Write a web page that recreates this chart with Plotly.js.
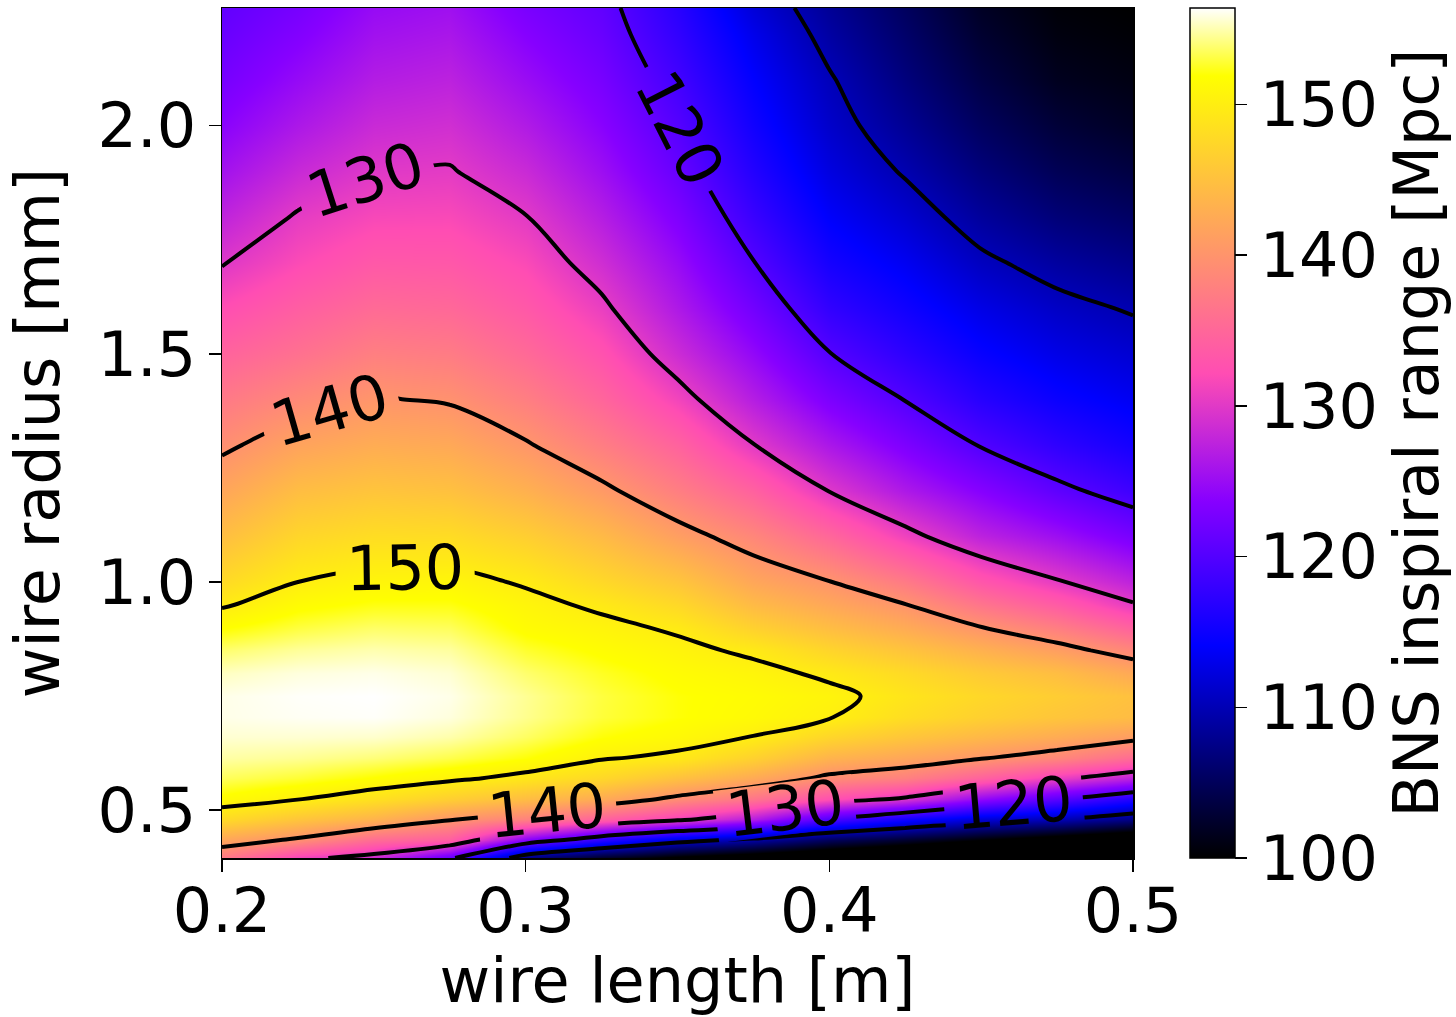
<!DOCTYPE html>
<html>
<head>
<meta charset="utf-8">
<script src="https://cdn.plot.ly/plotly-3.0.1.min.js"></script>
<style>
  html, body { margin: 0; padding: 0; background: #ffffff; }
  #chart { width: 1456px; height: 1017px; }
</style>
</head>
<body>
<div id="chart"></div>
<script>
// wire length [m] (x grid)
const wireLength = [0.2, 0.225, 0.25, 0.275, 0.3, 0.325, 0.35, 0.375, 0.4, 0.425, 0.45, 0.475, 0.5];
// wire radius [mm] (y grid)
const wireRadius = [0.395, 0.435, 0.48, 0.525, 0.57, 0.615, 0.66, 0.705, 0.75, 0.80, 0.85, 0.90, 0.95,
                    1.0, 1.1, 1.2, 1.3, 1.4, 1.5, 1.6, 1.7, 1.8, 1.9, 2.0, 2.1, 2.2, 2.258];

// BNS inspiral range [Mpc], one array per wire length (values along wireRadius)
const range_L0200 = [137, 142, 147.9, 151.5, 153.5, 154.8, 155.6, 156, 156, 155.3, 153.8, 151.8, 149.7, 147.8, 144.7, 142, 139.4, 137, 134.6, 132.2, 129.8, 127.6, 125.6, 123.9, 122.5, 121.5, 121];
const range_L0225 = [131, 139.5, 145.5, 150.2, 152.8, 154.5, 155.6, 156.2, 156.3, 155.8, 154.6, 153, 151.5, 150, 147.3, 144.6, 141.7, 138.8, 136.1, 134, 131.9, 130.3, 128.2, 126.3, 124.7, 123.3, 122.6];
const range_L0250 = [128.5, 135.5, 143.5, 148.5, 151.8, 154, 155.5, 156.3, 156.4, 156, 155, 153.7, 152.2, 150.8, 148.1, 145.4, 142.7, 140.2, 137.7, 135.4, 133.4, 131.6, 129.9, 128.3, 126.8, 125.5, 124.8];
const range_L0275 = [121, 134, 140.3, 146.5, 150.6, 153.2, 154.9, 155.8, 156, 155.6, 154.7, 153.5, 152.2, 150.9, 148, 145, 142.3, 139.7, 137.3, 135.1, 133.3, 131.7, 130.2, 128.8, 127.4, 126.1, 125.4];
const range_L0300 = [107, 123.5, 138, 144.5, 149.2, 152, 153.6, 154.4, 154.5, 153.8, 152.7, 151.5, 150.8, 149.7, 146.5, 143.2, 140.3, 137.6, 135.3, 133.4, 131.8, 130.1, 128.3, 126.6, 125, 123.6, 122.8];
const range_L0325 = [102, 117, 134.5, 142.5, 147.5, 150.3, 152, 152.9, 153, 152.5, 151.6, 150.7, 149.5, 147.6, 144.2, 140.7, 137.5, 134.8, 132.7, 130.6, 128.7, 126.9, 125.2, 123.8, 122.6, 121.5, 121];
const range_L0350 = [99, 112, 131, 139.2, 145, 149.4, 151.2, 152, 152, 151.5, 150.7, 149.6, 147.6, 145.5, 141.2, 137.6, 134.5, 131.2, 128.5, 126.4, 124.8, 123.1, 121.4, 120.1, 118.8, 117.6, 117];
const range_L0375 = [97, 109, 127, 136.5, 142.5, 146.8, 149.9, 151.3, 151.5, 150.8, 149.5, 146.8, 144.3, 142.1, 138.5, 134.4, 130.1, 126.9, 124.5, 122.2, 120.1, 118.2, 116.6, 115.3, 114.2, 113.0, 112];
const range_L0400 = [95, 105, 119.8, 132.5, 139.2, 143.5, 147.3, 150.2, 150.7, 149.5, 147.2, 144.6, 142.2, 140.1, 135, 129.9, 126.2, 122.9, 120.1, 117.6, 115.6, 113.9, 112.4, 111.2, 110.3, 109.0, 108.3];
const range_L0425 = [93, 102.5, 115.5, 129.5, 137.8, 142, 145.5, 148.2, 149, 147.8, 145.3, 142.6, 140.1, 137.2, 131, 126.4, 123, 119.9, 117.3, 115.2, 113.4, 111.5, 109.7, 108.2, 106.9, 105.8, 105.2];
const range_L0450 = [90, 100, 112, 124.5, 134.5, 140.3, 144, 146.7, 147.5, 146, 143.2, 140.1, 136.6, 133.2, 127.4, 123.6, 119.8, 116.8, 114.6, 112.7, 110.6, 108.6, 106.8, 105.2, 103.8, 102.6, 102];
const range_L0475 = [88, 97.5, 110.2, 120.5, 130.8, 138.5, 142.6, 145.5, 146.3, 144.6, 141.2, 137.6, 133.8, 130.3, 125.2, 120.8, 117.4, 114.8, 112.8, 110.9, 108.8, 106.6, 104.7, 103.1, 101.7, 100.8, 100.4];
const range_L0500 = [86, 95, 107.5, 116.5, 127.5, 135.5, 141, 144.5, 145, 142.3, 138.5, 134.4, 130.3, 127.5, 122.6, 118.5, 115.5, 113.4, 111.6, 109.7, 107.6, 105.5, 103.6, 102, 101, 100.3, 100];

const contourLevels = {start: 110, end: 150, size: 10};
const colorbarTicks = [100, 110, 120, 130, 140, 150];
const xTicks = [0.2, 0.3, 0.4, 0.5];
const yTicks = [0.5, 1.0, 1.5, 2.0];

const columns = [range_L0200, range_L0225, range_L0250, range_L0275, range_L0300, range_L0325,
                 range_L0350, range_L0375, range_L0400, range_L0425, range_L0450, range_L0475, range_L0500];
const z = wireRadius.map((_, i) => columns.map(col => col[i]));

// matplotlib "gnuplot2" colormap (piecewise linear)
const gnuplot2 = [
  [0.00, 'rgb(0,0,0)'],
  [0.25, 'rgb(0,0,255)'],
  [0.42, 'rgb(135,0,255)'],
  [0.57, 'rgb(255,77,179)'],
  [0.92, 'rgb(255,255,0)'],
  [1.00, 'rgb(255,255,255)']
];

const FONT = 'DejaVu Sans, Liberation Sans, sans-serif';

const heat = {
  type: 'heatmap',
  x: wireLength, y: wireRadius, z: z,
  zsmooth: 'best',
  colorscale: gnuplot2,
  zmin: 100, zmax: 156.4,
  hoverinfo: 'skip',
  colorbar: {
    x: 1.0626, xanchor: 'left', xref: 'paper',
    y: 0.5, yanchor: 'middle', len: 1, lenmode: 'fraction',
    thickness: 45, thicknessmode: 'pixels',
    xpad: 0, ypad: 0,
    outlinewidth: 1.5, outlinecolor: '#000',
    ticks: 'outside', ticklen: 12, tickwidth: 1.5, tickcolor: '#000',
    tickvals: colorbarTicks, ticktext: colorbarTicks.map(String),
    tickfont: {family: FONT, size: 62, color: '#000'},
    title: {text: 'BNS inspiral range [Mpc]', side: 'right', font: {family: FONT, size: 62, color: '#000'}}
  }
};

const cont = {
  type: 'contour',
  x: wireLength, y: wireRadius, z: z,
  autocontour: false,
  contours: Object.assign({coloring: 'none', showlabels: true,
    labelfont: {family: FONT, size: 62, color: '#000'}}, contourLevels),
  line: {color: '#000', width: 4, smoothing: 1},
  showscale: false,
  hoverinfo: 'skip'
};

const layout = {
  width: 1456, height: 1017,
  margin: {l: 222, r: 323, t: 8, b: 159, autoexpand: false},
  paper_bgcolor: '#fff', plot_bgcolor: '#fff',
  font: {family: FONT, size: 62, color: '#000'},
  showlegend: false,
  xaxis: {
    range: [0.2, 0.5], tickvals: xTicks, ticktext: xTicks.map(v => v.toFixed(1)),
    ticks: 'outside', ticklen: 12, tickwidth: 1.5, tickcolor: '#000',
    ticklabelstandoff: -14,
    showline: true, mirror: true, linecolor: '#000', linewidth: 1.5,
    showgrid: false, zeroline: false,
    tickfont: {family: FONT, size: 62, color: '#000'},
    title: {text: 'wire length [m]', font: {family: FONT, size: 62, color: '#000'}, standoff: 12}
  },
  yaxis: {
    range: [0.395, 2.258], tickvals: yTicks, ticktext: yTicks.map(v => v.toFixed(1)),
    ticks: 'outside', ticklen: 12, tickwidth: 1.5, tickcolor: '#000',
    showline: true, mirror: true, linecolor: '#000', linewidth: 1.5,
    showgrid: false, zeroline: false,
    tickfont: {family: FONT, size: 62, color: '#000'},
    title: {text: 'wire radius [mm]', font: {family: FONT, size: 62, color: '#000'}, standoff: 18}
  }
};

Plotly.newPlot('chart', [heat, cont], layout, {displayModeBar: false, staticPlot: true});
</script>
</body>
</html>
